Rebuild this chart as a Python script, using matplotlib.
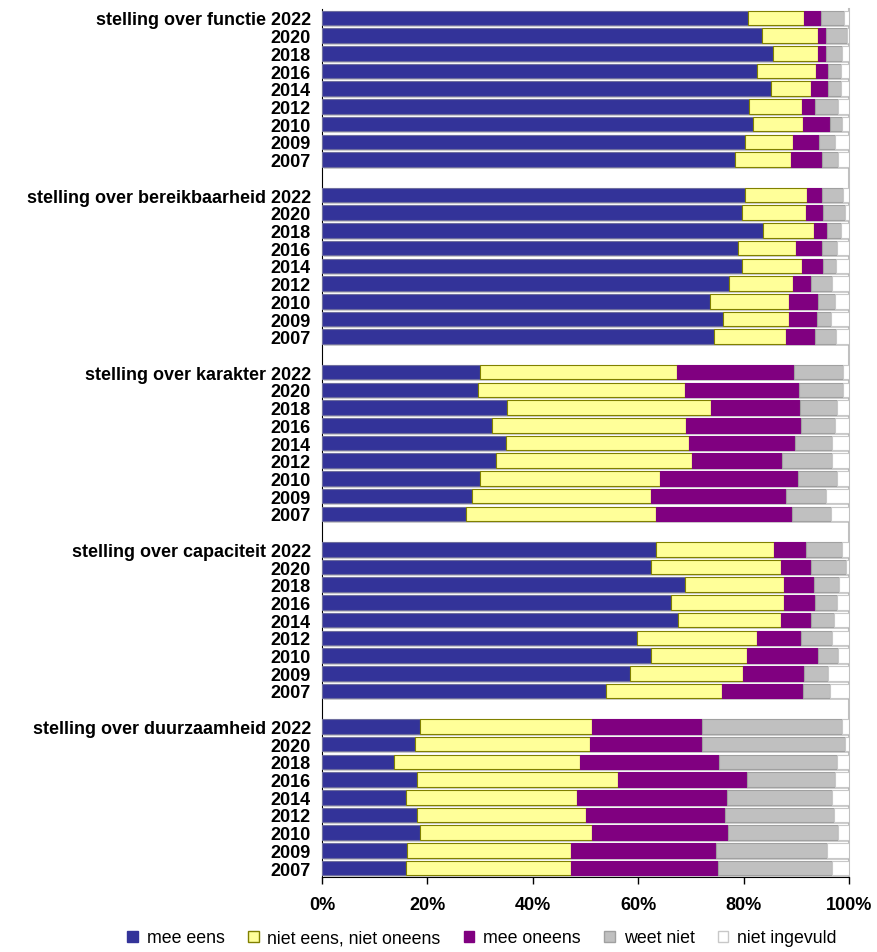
import matplotlib
matplotlib.use("Agg")
import matplotlib.pyplot as plt
from matplotlib.patches import Patch
import matplotlib.patheffects as pe
import numpy as np

plt.rcParams['font.family'] = ['Liberation Sans', 'DejaVu Sans']

statements = ["stelling over functie", "stelling over bereikbaarheid", "stelling over karakter",
              "stelling over capaciteit", "stelling over duurzaamheid"]
years = ["2022", "2020", "2018", "2016", "2014", "2012", "2010", "2009", "2007"]
series_names = ["mee eens", "niet eens, niet oneens", "mee oneens", "weet niet", "niet ingevuld"]

# cumulative boundaries (%) per statement, per year: end of mee eens, end of neutraal, end of mee oneens, end of weet niet
functie_cum = [[80.9, 91.5, 94.6, 99.1], [83.5, 94.2, 95.7, 99.6], [85.6, 94.2, 95.7, 98.6],
               [82.6, 93.8, 96.0, 98.4], [85.2, 92.8, 96.0, 98.4], [81.1, 91.0, 93.6, 98.0],
               [81.7, 91.3, 96.3, 98.6], [80.2, 89.3, 94.4, 97.3], [78.3, 88.9, 94.9, 98.0]]
bereik_cum = [[80.3, 92.0, 94.8, 98.9], [79.7, 91.9, 95.1, 99.2], [83.6, 93.4, 95.8, 98.4],
              [78.9, 90.0, 94.8, 97.7], [79.7, 91.1, 95.0, 97.5], [77.3, 89.3, 92.7, 96.7],
              [73.6, 88.7, 94.2, 97.3], [76.0, 88.7, 94.0, 96.5], [74.4, 88.1, 93.6, 97.5]]
karakter_cum = [[30.0, 67.3, 89.5, 98.8], [29.6, 68.9, 90.5, 98.8], [35.1, 73.8, 90.7, 97.8],
                [32.3, 69.1, 90.9, 97.3], [34.9, 69.6, 89.7, 96.8], [33.0, 70.2, 87.3, 96.8],
                [30.0, 64.1, 90.3, 97.8], [28.4, 62.4, 88.0, 95.7], [27.3, 63.3, 89.1, 96.5]]
capaciteit_cum = [[63.4, 85.8, 91.9, 98.7], [62.4, 87.1, 92.7, 99.4], [68.8, 87.7, 93.4, 98.1],
                  [66.3, 87.7, 93.6, 97.7], [67.5, 87.1, 92.7, 97.1], [59.7, 82.6, 90.9, 96.8],
                  [62.4, 80.6, 94.2, 97.9], [58.5, 79.8, 91.5, 96.0], [53.8, 75.9, 91.2, 96.3]]
duurzaam_cum = [[18.6, 51.3, 72.2, 98.6], [17.6, 50.9, 72.2, 99.3], [13.6, 49.0, 75.3, 97.8],
                [18.0, 56.2, 80.6, 97.3], [16.0, 48.4, 76.9, 96.8], [18.0, 50.1, 76.5, 97.1],
                [18.6, 51.3, 77.1, 98.0], [16.2, 47.2, 74.8, 95.9], [16.0, 47.2, 75.1, 96.7]]

all_cum = [functie_cum, bereik_cum, karakter_cum, capaciteit_cum, duurzaam_cum]

colors = ["#333399", "#FFFF99", "#800080", "#C0C0C0", "#FFFFFF"]
edges = ["#6f6f9f", "#808000", "#800080", "#a0a0a0", "#c8c8c8"]

fig = plt.figure(figsize=(8.78, 9.53), dpi=100)
ax = fig.add_axes([322/878, 1-878/953, (849-322)/878, (878-10)/953])

yticks, ylabels = [], []
for g, (stmt, cum) in enumerate(zip(statements, all_cum)):
    for i, (yr, c) in enumerate(zip(years, cum)):
        y = g*10 + i
        bounds = [0.0] + list(c) + [100.0]
        yticks.append(y)
        ylabels.append(f"{stmt} {yr}" if i == 0 else yr)
        for k in range(5):
            w = bounds[k+1] - bounds[k]
            b = ax.barh(y, w, left=bounds[k], height=0.82, color=colors[k],
                        edgecolor=edges[k], linewidth=0.8, zorder=3)
            for p in b.patches:
                p.set_path_effects([pe.SimplePatchShadow(offset=(1.5, -1.5), shadow_rgbFace="#b0b0b0", alpha=0.6),
                                    pe.Normal()])

ax.set_xlim(0, 100)
ax.set_ylim(48.5, -0.5)
ax.set_yticks(yticks)
ax.set_yticklabels(ylabels, fontsize=13, fontweight="bold")
ax.tick_params(axis="y", length=0, pad=8)
ax.set_xticks(np.arange(0, 101, 20))
ax.set_xticklabels([f"{v}%" for v in range(0, 101, 20)], fontsize=13, fontweight="bold")
ax.tick_params(axis="x", length=5, width=1, pad=9, direction="out")
ax.spines["top"].set_visible(False)
ax.spines["right"].set_color("#c0c0c0")
ax.spines["right"].set_linewidth(1.5)
ax.spines["left"].set_color("black")
ax.spines["bottom"].set_color("black")

handles = [Patch(facecolor=colors[k], edgecolor=edges[k] if k != 0 else colors[0], label=series_names[k])
           for k in range(5)]
fig.legend(handles=handles, loc="lower center", bbox_to_anchor=(0.549, -0.011), ncol=5, frameon=False,
           fontsize=12.8, handlelength=0.6, handleheight=0.6, handletextpad=0.5, columnspacing=1.3)

fig.savefig("out.png", dpi=100)
